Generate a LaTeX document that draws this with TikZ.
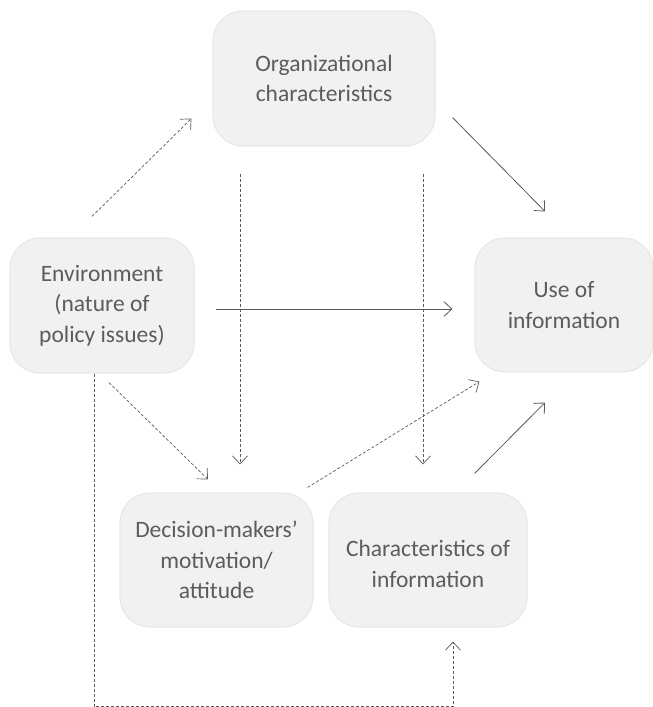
\documentclass[tikz,border=0pt]{standalone}
\usepackage{fontspec}
\setmainfont{Carlito}
\usetikzlibrary{arrows.meta}
\definecolor{boxfill}{HTML}{F1F1F1}
\definecolor{boxline}{HTML}{E8E8E8}
\definecolor{txtgray}{HTML}{5C5C5C}
\definecolor{linegray}{HTML}{5A5A5A}
\tikzset{
  box/.style={draw=boxline, line width=1.2pt, fill=boxfill, rounded corners=30pt,
    align=center, text=txtgray, inner sep=0pt, font=\fontsize{23.5}{30.5}\selectfont},
  sline/.style={draw=linegray, line width=0.8pt, -{Straight Barb[length=8pt,width=15pt]}},
  dline/.style={sline, line width=0.7pt, dash pattern=on 3pt off 2pt},
}

\begin{document}
\begin{tikzpicture}[x=1pt,y=-1pt]
\useasboundingbox (0,0) rectangle (653,707);
\node[box, minimum width=222pt, minimum height=135pt] (org) at (324,78.5) {Organizational\\characteristics};
\node[box, minimum width=184pt, minimum height=135pt] (env) at (102,305.5) {Environment\\(nature of\\policy issues)};
\node[box, minimum width=178pt, minimum height=134pt] (use) at (564,305) {Use of\\information};
\node[box, minimum width=193pt, minimum height=134pt] (dec) at (216.5,560) {Decision-makers’\\motivation/\\attitude};
\node[box, minimum width=198pt, minimum height=134pt] (chr) at (428,560)
  {\raisebox{-6pt}[\height][\depth]{\begin{tabular}{@{}c@{}}Characteristics of\\information\end{tabular}}};

\draw[dline] ([shift={(-10,-21)}]env.north) -- ([shift={(-21,-28)}]org.south west);
\draw[sline] ([shift={(17,-29)}]org.south east) -- ([shift={(-19,-26)}]use.north);
\draw[dline] ([shift={(-84,27)}]org.south) -- ([shift={(23.5,-28)}]dec.north);
\draw[dline] ([shift={(99,27)}]org.south) -- ([shift={(-5,-28)}]chr.north);
\draw[sline] ([shift={(21,3.5)}]env.east) -- ([shift={(-22,4)}]use.west);
\draw[dline] ([shift={(7,9)}]env.south) -- ([shift={(-8.5,-13)}]dec.north);
\draw[dline] ([shift={(-6,-5)}]dec.north east) -- ([shift={(5,9)}]use.south west);
\draw[sline] ([shift={(-53,-19)}]chr.north east) -- ([shift={(-19,30)}]use.south);
\draw[dline] ([shift={(-8,0)}]env.south) -- ++(0,333) -| ([shift={(25,14)}]chr.south);
\end{tikzpicture}
\end{document}
